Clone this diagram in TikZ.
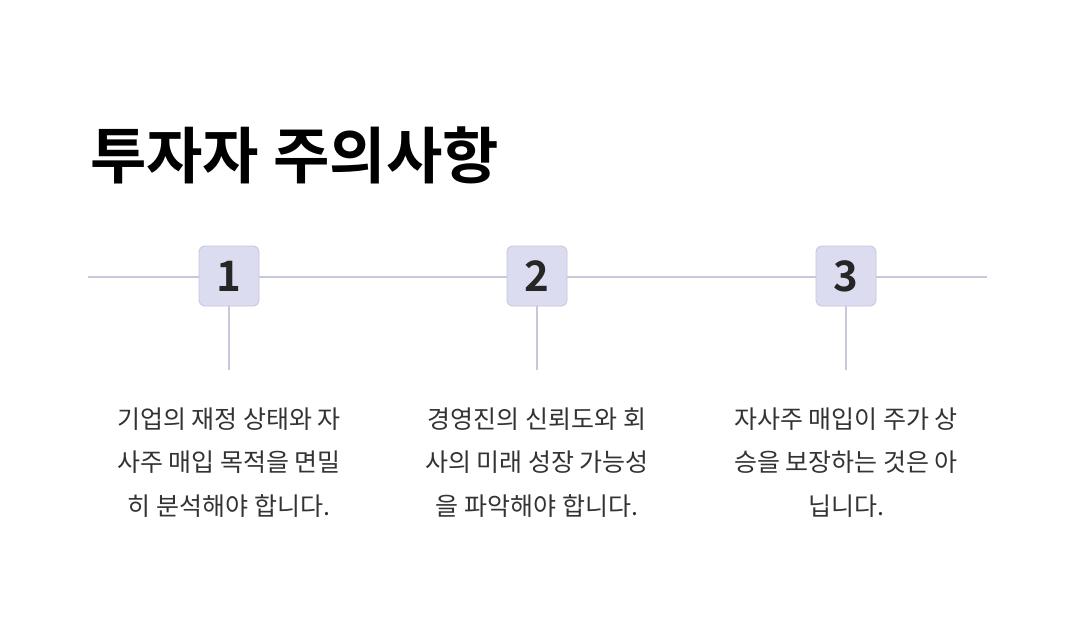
\documentclass[tikz,border=0pt]{standalone}
\usepackage{fontspec}
\newfontfamily\cjk{Noto Sans CJK KR}
\newfontfamily\cjkb{Noto Sans CJK KR Bold}
\definecolor{linec}{HTML}{C8C8DC}
\definecolor{boxfill}{HTML}{DCDCF0}
\definecolor{boxdraw}{HTML}{C4C4DE}
\definecolor{txt}{HTML}{333333}
\tikzset{
  numbox/.style={draw=boxdraw, fill=boxfill, rounded corners=6pt, minimum width=60pt, minimum height=60pt, inner sep=0pt, line width=0.8pt, font=\cjkb\fontsize{42}{44}\selectfont, text=black!85},
  conn/.style={draw=linec, line width=2.5pt},
  desc/.style={align=center, font=\cjk\fontsize{25}{43.5}\selectfont, text=txt, anchor=north}
}
\begin{document}
\begin{tikzpicture}[x=1pt,y=-1pt]
\path[use as bounding box, fill=white] (0,0) rectangle (1070,632);
\node[anchor=base west, inner sep=0pt, font=\cjkb\fontsize{61.3}{62}\selectfont] (title) at (90,178) {투자자 주의사항};
\coordinate (L) at (88,277);
\coordinate (R) at (987,277);
\draw[conn] (L) -- (R);
\foreach \i/\x in {1/229,2/537,3/846}{
  \node[numbox] (b\i) at (\x,276) {\i};
  \coordinate (e\i) at (\x,370);
  \draw[conn] (b\i.south) -- (e\i);
}
\node[desc] (t1) at (229,404) {기업의 재정 상태와 자\\사주 매입 목적을 면밀\\히 분석해야 합니다.};
\node[desc] (t2) at (537,404) {경영진의 신뢰도와 회\\사의 미래 성장 가능성\\을 파악해야 합니다.};
\node[desc] (t3) at (846,404) {자사주 매입이 주가 상\\승을 보장하는 것은 아\\닙니다.};
\end{tikzpicture}
\end{document}
